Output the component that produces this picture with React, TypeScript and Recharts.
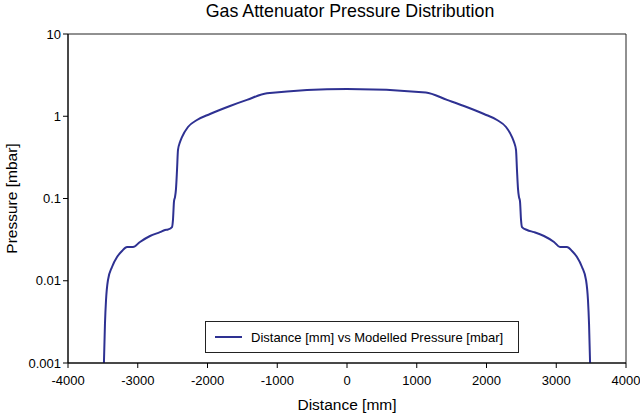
import React from "react";
import {
  LineChart,
  Line,
  XAxis,
  YAxis,
  Legend,
  ReferenceArea,
} from "recharts";

const distanceMm = [
  -3485, -3470, -3455, -3427, -3369, -3297, -3226, -3154, -3068, -2968, -2824,
  -2681, -2609, -2566, -2509, -2495, -2480, -2466, -2452, -2437, -2423, -2394,
  -2366, -2280, -2151, -1964, -1677, -1434, -1147, 0, 1130, 1434, 1677, 1964,
  2151, 2280, 2366, 2394, 2423, 2437, 2452, 2466, 2480, 2495, 2509, 2581, 2681,
  2824, 2968, 3054, 3154, 3226, 3297, 3369, 3427, 3455, 3470, 3485,
];

const pressureMbar = [
  0.001, 0.003, 0.0058, 0.0102, 0.0147, 0.0194, 0.023, 0.0257, 0.0257, 0.0296,
  0.035, 0.039, 0.0414, 0.042, 0.045, 0.055, 0.093, 0.104, 0.13, 0.222, 0.389,
  0.486, 0.559, 0.74, 0.9, 1.065, 1.333, 1.58, 1.9, 2.15, 1.95, 1.58, 1.333,
  1.065, 0.9, 0.74, 0.559, 0.486, 0.389, 0.222, 0.13, 0.104, 0.093, 0.055,
  0.045, 0.0414, 0.039, 0.035, 0.0296, 0.0257, 0.0257, 0.023, 0.0194, 0.0147,
  0.0102, 0.0058, 0.003, 0.001,
];

const xTicks = [-4000, -3000, -2000, -1000, 0, 1000, 2000, 3000, 4000];
const yTicks = [0.001, 0.01, 0.1, 1, 10];

const seriesName = "Distance [mm] vs Modelled Pressure [mbar]";
const titleText = "Gas Attenuator Pressure Distribution";
const xLabel = "Distance [mm]";
const yLabel = "Pressure [mbar]";

const data = distanceMm.map((d, i) => ({ d, p: pressureMbar[i] }));

const FONT = '"Liberation Sans", Arial, sans-serif';
const LINE_COLOR = "#2E3192";

const renderLegend = () => (
  <div
    style={{
      boxSizing: "border-box",
      width: 314,
      height: 32,
      border: "1px solid #222",
      background: "#fff",
      display: "flex",
      alignItems: "center",
      fontFamily: FONT,
      fontSize: 13,
      color: "#000",
    }}
  >
    <svg width={36} height={10} style={{ marginLeft: 9 }}>
      <line x1={0} y1={5} x2={27} y2={5} stroke={LINE_COLOR} strokeWidth={2} />
    </svg>
    <span>{seriesName}</span>
  </div>
);

export default function App() {
  return (
    <div
      style={{
        position: "absolute",
        left: 0,
        top: 0,
        width: 640,
        height: 416,
        background: "#fff",
        fontFamily: FONT,
      }}
    >
      <div
        style={{
          position: "absolute",
          left: 0,
          top: 0,
          width: 700,
          textAlign: "center",
          fontSize: 17.8,
          lineHeight: "22px",
          color: "#000",
        }}
      >
        {titleText}
      </div>
      <LineChart
        width={640}
        height={416}
        data={data}
        margin={{ top: 34, right: 14, bottom: 0, left: 0 }}
        style={{ fontFamily: FONT }}
      >
        <XAxis
          dataKey="d"
          type="number"
          domain={[-4000, 4000]}
          ticks={xTicks}
          height={53}
          tickSize={5}
          tickMargin={8}
          stroke="#000"
          tick={{ fill: "#000", fontSize: 13 }}
          axisLine={{ stroke: "#000" }}
          tickLine={{ stroke: "#000" }}
          allowDataOverflow
          label={{
            value: xLabel,
            position: "insideBottom",
            offset: 6,
            style: { fill: "#000", fontSize: 15.5 },
          }}
        />
        <YAxis
          dataKey="p"
          scale="log"
          domain={[0.001, 10]}
          ticks={yTicks}
          width={68}
          tickSize={5}
          tickMargin={2}
          allowDataOverflow
          stroke="#000"
          tick={{ fill: "#000", fontSize: 13 }}
          axisLine={{ stroke: "#000" }}
          tickLine={{ stroke: "#000" }}
          tickFormatter={(v: number) => String(v)}
          label={{
            value: yLabel,
            angle: -90,
            position: "insideLeft",
            offset: 11,
            style: { fill: "#000", fontSize: 15.5, textAnchor: "middle" },
          }}
        />
        <ReferenceArea
          x1={-4000}
          x2={4000}
          y1={0.001}
          y2={10}
          fill="none"
          stroke="#222"
          strokeWidth={1}
          ifOverflow="visible"
        />
        <Legend
          layout="horizontal"
          verticalAlign="middle"
          align="center"
          content={renderLegend}
          wrapperStyle={{ position: "absolute", left: 205, top: 321, width: 314, height: 32 }}
        />
        <Line
          type="monotone"
          dataKey="p"
          name={seriesName}
          stroke={LINE_COLOR}
          strokeWidth={2}
          dot={false}
          isAnimationActive={false}
        />
      </LineChart>
    </div>
  );
}
